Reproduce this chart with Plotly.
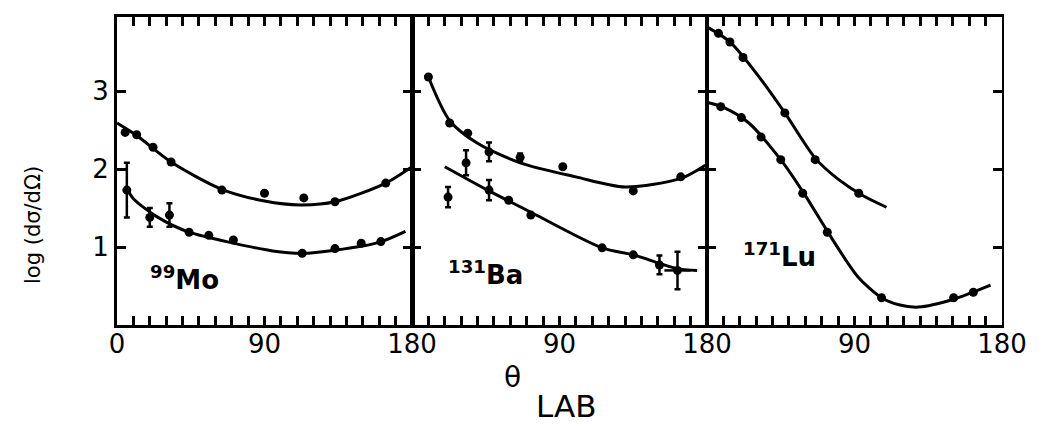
import plotly.graph_objects as go

# ---------------- data ----------------
# Panel 1: 99Mo
mo_up_x = [5, 12, 22, 33, 64, 90, 114, 133, 164]
mo_up_y = [2.47, 2.44, 2.28, 2.09, 1.73, 1.69, 1.63, 1.58, 1.82]
mo_up_fit_x = [0, 12, 33, 64, 90, 112, 133, 164, 180]
mo_up_fit_y = [2.59, 2.43, 2.09, 1.74, 1.59, 1.54, 1.58, 1.82, 2.03]

mo_lo_x = [6, 20, 32, 44, 56, 71, 113, 133, 149, 161]
mo_lo_y = [1.73, 1.38, 1.41, 1.19, 1.15, 1.09, 0.92, 0.98, 1.05, 1.07]
mo_lo_err = [0.35, 0.12, 0.15, 0, 0, 0, 0, 0, 0, 0]
mo_lo_fit_x = [6, 10, 25, 44, 71, 95, 113, 133, 160, 176]
mo_lo_fit_y = [1.75, 1.62, 1.38, 1.19, 1.05, 0.95, 0.92, 0.96, 1.06, 1.20]

# Panel 2: 131Ba
ba_up_x = [10, 23, 34, 47, 66, 92, 135, 164]
ba_up_y = [3.18, 2.59, 2.46, 2.22, 2.15, 2.03, 1.72, 1.90]
ba_up_err = [0, 0, 0, 0.12, 0.05, 0, 0, 0]
ba_up_fit_x = [10, 23, 40, 66, 100, 130, 164, 179]
ba_up_fit_y = [3.18, 2.62, 2.33, 2.08, 1.90, 1.77, 1.88, 2.05]

ba_lo_x = [22, 33, 47, 59, 72.5, 116, 135, 151, 162]
ba_lo_y = [1.64, 2.08, 1.73, 1.60, 1.41, 0.99, 0.90, 0.77, 0.70]
ba_lo_err = [0.13, 0.16, 0.13, 0, 0, 0, 0, 0.12, 0.24]
ba_lo_xerr = [0, 0, 0, 0, 0, 0, 0, 0, 8]
ba_lo_fit_x = [20, 47, 74, 116, 135, 151, 162, 174]
ba_lo_fit_y = [2.03, 1.72, 1.43, 0.99, 0.90, 0.79, 0.72, 0.70]

# Panel 3: 171Lu
lu_up_x = [7, 14, 22, 47.5, 66, 92.6]
lu_up_y = [3.74, 3.63, 3.43, 2.72, 2.12, 1.69]
lu_up_fit_x = [1, 14, 30, 47.5, 66, 80, 95, 109.5]
lu_up_fit_y = [3.81, 3.63, 3.23, 2.72, 2.14, 1.87, 1.66, 1.51]

lu_lo_x = [8.4, 21, 33, 45, 58.4, 73.4, 106.5, 150.5, 162.5]
lu_lo_y = [2.80, 2.66, 2.41, 2.12, 1.69, 1.19, 0.35, 0.35, 0.42]
lu_lo_fit_x = [1, 10, 25, 45, 60, 75, 92, 106.5, 117, 129, 150.5, 173]
lu_lo_fit_y = [2.85, 2.79, 2.60, 2.12, 1.66, 1.15, 0.62, 0.35, 0.26, 0.23, 0.33, 0.51]

x_ticks = list(range(0, 181, 10))
y_ticks = [1, 2, 3]
labels = ["<sup>99</sup>Mo", "<sup>131</sup>Ba", "<sup>171</sup>Lu"]
label_pos = [(18.7, 0.6), (21, 0.67), (20.5, 0.9)]

# ---------------- figure ----------------
fig = go.Figure()
FONT = "DejaVu Sans"

panels = [
    [(mo_up_x, mo_up_y, None, None, mo_up_fit_x, mo_up_fit_y),
     (mo_lo_x, mo_lo_y, mo_lo_err, None, mo_lo_fit_x, mo_lo_fit_y)],
    [(ba_up_x, ba_up_y, ba_up_err, None, ba_up_fit_x, ba_up_fit_y),
     (ba_lo_x, ba_lo_y, ba_lo_err, ba_lo_xerr, ba_lo_fit_x, ba_lo_fit_y)],
    [(lu_up_x, lu_up_y, None, None, lu_up_fit_x, lu_up_fit_y),
     (lu_lo_x, lu_lo_y, None, None, lu_lo_fit_x, lu_lo_fit_y)],
]

for i, series in enumerate(panels):
    xa = "x" if i == 0 else f"x{i+1}"
    ya = "y" if i == 0 else f"y{i+1}"
    for (px, py, ey, ex, fx, fy) in series:
        fig.add_trace(go.Scatter(
            x=fx, y=fy, mode="lines", xaxis=xa, yaxis=ya,
            line=dict(color="black", width=3, shape="spline", smoothing=0.8),
            showlegend=False, hoverinfo="skip"))
        kw = {}
        if ey is not None:
            kw["error_y"] = dict(type="data", array=ey, visible=True,
                                 color="black", thickness=2.5, width=3)
        if ex is not None:
            kw["error_x"] = dict(type="data", array=ex, visible=True,
                                 color="black", thickness=2.5, width=0)
        fig.add_trace(go.Scatter(
            x=px, y=py, mode="markers", xaxis=xa, yaxis=ya,
            marker=dict(color="black", size=9, symbol="circle"),
            showlegend=False, **kw))

w = 1.0 / 3
for i in range(3):
    key = "xaxis" if i == 0 else f"xaxis{i+1}"
    ykey = "yaxis" if i == 0 else f"yaxis{i+1}"
    yref = "y" if i == 0 else f"y{i+1}"
    xref = "x" if i == 0 else f"x{i+1}"
    if i == 0:
        text = ["0" if v == 0 else "90" if v == 90 else "180" if v == 180 else "" for v in x_ticks]
    else:
        text = ["90" if v == 90 else "180" if v == 180 else "" for v in x_ticks]
    fig.layout[key] = dict(
        domain=[i * w, (i + 1) * w], range=[0, 180], anchor=yref,
        tickmode="array", tickvals=x_ticks, ticktext=text,
        ticks="inside", ticklen=9, tickwidth=2.5, tickcolor="black",
        ticklabelstandoff=-6,
        showline=True, linecolor="black", linewidth=3, mirror="ticks",
        showgrid=False, zeroline=False,
        tickfont=dict(family=FONT, size=26, color="black"))
    fig.layout[ykey] = dict(
        domain=[0, 1], range=[0, 3.95], anchor=xref,
        tickmode="array", tickvals=y_ticks, ticktext=[str(v) for v in y_ticks],
        showticklabels=(i == 0),
        ticks="inside", ticklen=9, tickwidth=2.5, tickcolor="black",
        showline=True, linecolor="black", linewidth=2 if i > 0 else 3, mirror="ticks",
        showgrid=False, zeroline=False,
        tickfont=dict(family=FONT, size=26, color="black"))
    if i > 0:
        fig.layout[ykey]["matches"] = "y"
    lx, ly = label_pos[i]
    fig.add_annotation(x=lx, y=ly, xref=xref, yref=yref, text="<b>" + labels[i] + "</b>",
                       showarrow=False, xanchor="left", yanchor="middle",
                       font=dict(family=FONT, size=26, color="black"))

# x-axis title: theta with LAB subscript (two pieces of text)
fig.add_annotation(x=512, y=377, xref="paper", yref="paper", text="θ",
                   showarrow=False, xanchor="center", yanchor="middle",
                   font=dict(family=FONT, size=28, color="black"))
fig.add_annotation(x=566, y=406, xref="paper", yref="paper", text="LAB",
                   showarrow=False, xanchor="center", yanchor="middle",
                   font=dict(family=FONT, size=31, color="black"))
fig.add_annotation(x=33, y=225, xref="paper", yref="paper",
                   text="log (dσ/dΩ)", showarrow=False, textangle=-90,
                   xanchor="center", yanchor="middle",
                   font=dict(family=FONT, size=21, color="black"))

# convert pixel positions of the titles to paper coordinates
L, R, T, B = 117, 41, 17, 103
PW, PH = 1043 - L - R, 428 - T - B
for ann in fig.layout.annotations:
    if ann.xref == "paper":
        ann.x = (ann.x - L) / PW
        ann.y = 1 - (ann.y - T) / PH

fig.update_layout(
    width=1043, height=428,
    margin=dict(l=L, r=R, t=T, b=B),
    paper_bgcolor="white", plot_bgcolor="white",
    font=dict(family=FONT, color="black"),
)

fig.write_html("out.html")
